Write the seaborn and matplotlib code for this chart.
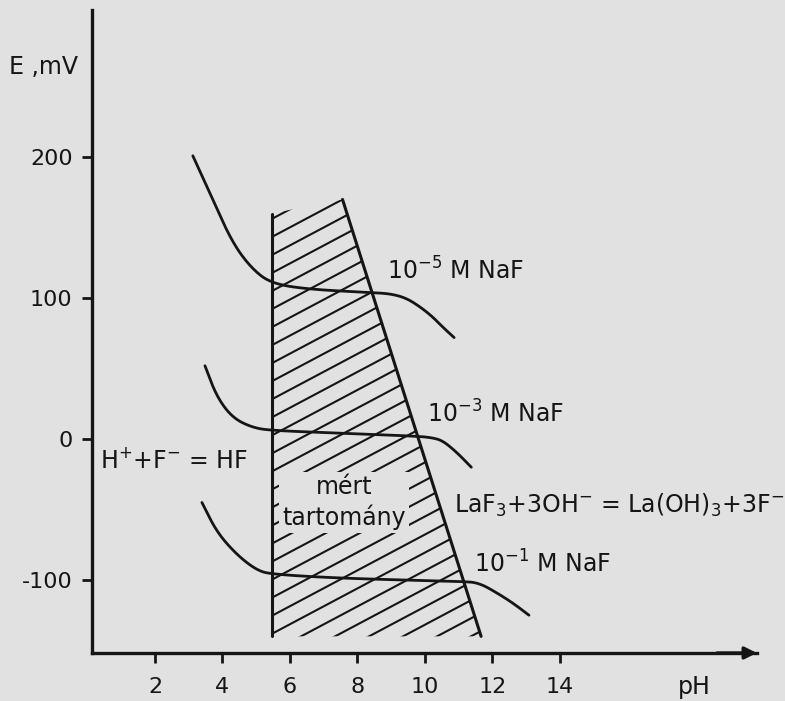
import numpy as np
import pandas as pd
import seaborn as sns
import matplotlib.pyplot as plt
from matplotlib.patches import Polygon

# Curves: pH vs electrode potential (mV)
ph_1e5 = [3.12, 3.71, 4.30, 4.90, 5.49, 6.67, 8.42, 9.00, 9.45, 9.85, 10.22, 10.55, 10.87]
e_1e5 = [201, 170, 139, 120, 110, 106, 104, 103, 100, 94, 87, 79, 72]

ph_1e3 = [3.48, 3.83, 4.30, 4.90, 5.49, 7.68, 9.78, 10.20, 10.52, 10.93, 11.38]
e_1e3 = [52, 30, 15, 8, 6, 4, 2, 1, -1, -9, -20]

ph_1e1 = [3.39, 3.83, 4.42, 5.01, 5.46, 7.68, 11.10, 11.61, 12.20, 12.65, 13.09]
e_1e1 = [-45, -66, -82, -93, -96, -99, -101, -102, -110, -117, -125]

# measured range (hatched area)
region_ph = [5.46, 7.56, 11.67, 5.46]
region_e = [160, 170, -140, -140]

x_ticks = [2, 4, 6, 8, 10, 12, 14]
y_ticks = [-100, 0, 100, 200]

bg = "#e0e1e0"
ink = "#151515"

sns.set_theme(style="ticks")
plt.rcParams["font.family"] = ["DejaVu Sans"]

df = pd.concat([
    pd.DataFrame({"pH": ph_1e5, "E": e_1e5, "c": "1e-5"}),
    pd.DataFrame({"pH": ph_1e3, "E": e_1e3, "c": "1e-3"}),
    pd.DataFrame({"pH": ph_1e1, "E": e_1e1, "c": "1e-1"}),
])


def chaikin(x, y, n=4):
    # corner cutting to get smooth hand-drawn looking curves
    pts = np.column_stack([x, y]).astype(float)
    for _ in range(n):
        q = 0.75 * pts[:-1] + 0.25 * pts[1:]
        r = 0.25 * pts[:-1] + 0.75 * pts[1:]
        mid = np.empty((2 * len(q), 2))
        mid[0::2], mid[1::2] = q, r
        pts = np.vstack([pts[:1], mid, pts[-1:]])
    return pts[:, 0], pts[:, 1]


fig = plt.figure(figsize=(7.85, 7.01), dpi=100, facecolor=bg)
ax = fig.add_axes([0.1172, 0.0685, 0.847, 0.917])
ax.set_facecolor(bg)

for key, g in df.groupby("c", sort=False):
    xs, ys = chaikin(g["pH"].to_numpy(), g["E"].to_numpy())
    sns.lineplot(x=xs, y=ys, ax=ax, color=ink, lw=2.0, sort=False, estimator=None)

# hatched measuring range
poly = Polygon(list(zip(region_ph, region_e)), closed=True, fill=False, lw=0)
ax.add_patch(poly)
slope = 12.7
step = 12.8
c0 = region_e[1] - slope * (region_ph[1] - region_ph[0])
for k in range(-2, 30):
    c = c0 - k * step
    hx = np.array([region_ph[0], region_ph[2]])
    hy = c + slope * (hx - region_ph[0])
    ln, = ax.plot(hx, hy, color=ink, lw=1.5)
    ln.set_clip_path(poly)
ax.plot([region_ph[0], region_ph[0]], [region_e[0], region_e[3]], color=ink, lw=2.2)
ax.plot([region_ph[1], region_ph[2]], [region_e[1], region_e[2]], color=ink, lw=2.2)

ax.set_xlim(0.13, 19.85)
ax.set_ylim(-151.8, 304.3)
ax.set_xticks(x_ticks)
ax.set_yticks(y_ticks)
ax.set_yticklabels([str(v) for v in y_ticks])
ax.tick_params(axis="both", direction="out", length=7, width=2, colors=ink,
               labelsize=16, pad=7)
ax.tick_params(axis="x", pad=10)
sns.despine(ax=ax)
for s in ["left", "bottom"]:
    ax.spines[s].set_linewidth(2.4)
    ax.spines[s].set_color(ink)
ax.set_xlabel("")
ax.set_ylabel("")

# x-axis arrow
ax.annotate("", xy=(1.0, 0), xytext=(0.94, 0), xycoords="axes fraction",
            arrowprops=dict(arrowstyle="-|>", color=ink, lw=2.4,
                            mutation_scale=18, shrinkA=0, shrinkB=0))

fs = 17
ax.text(-1.3, 264, "E ,mV", fontsize=fs, ha="center", va="center", color=ink, clip_on=False)
ax.text(18.0, -176, "pH", fontsize=fs, ha="center", va="center", color=ink, clip_on=False)
ax.text(8.87, 119, r"10$^{-5}$ M NaF", fontsize=fs, ha="left", va="center", color=ink)
ax.text(10.06, 18, r"10$^{-3}$ M NaF", fontsize=fs, ha="left", va="center", color=ink)
ax.text(11.45, -89, r"10$^{-1}$ M NaF", fontsize=fs, ha="left", va="center", color=ink)
ax.text(10.86, -47, r"LaF$_3$+3OH$^{-}$ = La(OH)$_3$+3F$^{-}$", fontsize=fs, ha="left",
        va="center", color=ink, clip_on=False,
        bbox=dict(facecolor=bg, edgecolor="none", pad=1))
ax.text(0.37, -15, r"H$^{+}$+F$^{-}$ = HF", fontsize=fs, ha="left", va="center", color=ink)
ax.text(7.6, -45, "mért\ntartomány", fontsize=fs, ha="center", va="center", color=ink,
        multialignment="center", linespacing=1.3,
        bbox=dict(facecolor=bg, edgecolor="none", pad=2))

fig.savefig("out.png", dpi=100, facecolor=bg)
